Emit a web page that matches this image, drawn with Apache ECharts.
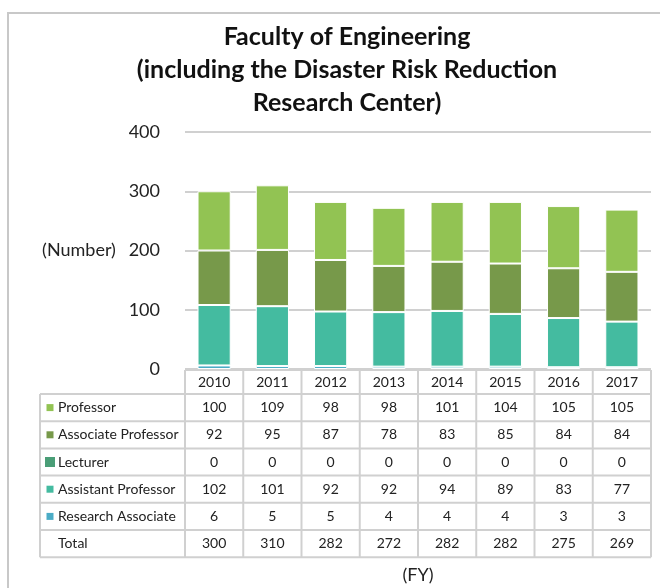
<!DOCTYPE html>
<html>
<head>
<meta charset="utf-8">
<script src="https://cdn.jsdelivr.net/npm/echarts@6/dist/echarts.min.js"></script>
<style>
  html, body {margin: 0; padding: 0; background: #fff;}
  #chart {width: 660px; height: 588px;}
</style>
</head>
<body>
<div id="chart"></div>
<script>
const years = ['2010', '2011', '2012', '2013', '2014', '2015', '2016', '2017'];
const professor = [100, 109, 98, 98, 101, 104, 105, 105];
const associateProfessor = [92, 95, 87, 78, 83, 85, 84, 84];
const lecturer = [0, 0, 0, 0, 0, 0, 0, 0];
const assistantProfessor = [102, 101, 92, 92, 94, 89, 83, 77];
const researchAssociate = [6, 5, 5, 4, 4, 4, 3, 3];
const totals = [300, 310, 282, 272, 282, 282, 275, 269];
const yTicks = [0, 100, 200, 300, 400];

const FONT = 'Lato, "Open Sans", sans-serif';
const LINE = '#d0d0d0';

// table rows, top to bottom (stack is drawn bottom-up)
const rows = [
    {name: 'Professor', data: professor, color: '#92c353', mark: 7},
    {name: 'Associate Professor', data: associateProfessor, color: '#77994a', mark: 7},
    {name: 'Lecturer', data: lecturer, color: '#4a9e77', mark: 10},
    {name: 'Assistant Professor', data: assistantProfessor, color: '#44bba0', mark: 7},
    {name: 'Research Associate', data: researchAssociate, color: '#4bacc6', mark: 7},
    {name: 'Total', data: totals, color: null, mark: 0}
];

const chart = echarts.init(document.getElementById('chart'));

const series = rows.slice(0, 5).reverse().map(r => ({
    name: r.name,
    type: 'bar',
    stack: 'staff',
    barWidth: '57%',
    data: r.data,
    itemStyle: {color: r.color, borderColor: '#fff', borderWidth: 1}
}));

chart.setOption({
    animation: false,
    textStyle: {fontFamily: FONT},
    title: {
        text: 'Faculty of Engineering\n(including the Disaster Risk Reduction\nResearch Center)',
        left: 342,
        top: 15,
        textAlign: 'center',
        textStyle: {fontSize: 25, fontWeight: 'bold', color: '#111', lineHeight: 33, fontFamily: FONT}
    },
    grid: {left: 185, right: 9, top: 132, bottom: 219},
    xAxis: {
        type: 'category',
        data: years,
        axisLine: {show: false},
        axisTick: {show: false},
        axisLabel: {show: false}
    },
    yAxis: {
        type: 'value',
        min: yTicks[0],
        max: yTicks[yTicks.length - 1],
        interval: 100,
        axisLabel: {fontSize: 18, color: '#222', margin: 25},
        splitLine: {lineStyle: {color: LINE, width: 2}}
    },
    series
});

// data table under the plot
const colX = years.map(y => chart.convertToPixel({xAxisIndex: 0}, y));
const half = (colX[1] - colX[0]) / 2;
const tLeft = 40, cLeft = colX[0] - half, cRight = colX[colX.length - 1] + half;
const headTop = 370, headBottom = 394, rowH = 27.2;
const tBottom = headBottom + rowH * rows.length;

const g = [];
const line = (x1, y1, x2, y2) => g.push({type: 'line', shape: {x1, y1, x2, y2}, style: {stroke: LINE, lineWidth: 2}, z: 10});

// outer frame
g.push({type: 'rect', shape: {x: 8, y: 13, width: 700, height: 620}, style: {fill: null, stroke: '#c8c8c8', lineWidth: 2}});

// horizontal rules
line(cLeft, headTop, cRight, headTop);
for (let i = 0; i <= rows.length; i++) {
    const y = headBottom + rowH * i;
    line(tLeft, y, cRight, y);
}
// vertical rules
line(tLeft, headBottom, tLeft, tBottom);
for (let i = 0; i <= years.length; i++) {
    const x = cLeft + half * 2 * i;
    line(x, headTop, x, tBottom);
}

years.forEach((y, i) => {
    g.push({type: 'text', x: colX[i], y: (headTop + headBottom) / 2, style: {text: y, fontSize: 14, fill: '#222', align: 'center', verticalAlign: 'middle', fontFamily: FONT}});
});

rows.forEach((r, ri) => {
    const cy = headBottom + rowH * ri + rowH / 2;
    if (r.mark) {
        g.push({type: 'rect', shape: {x: 50 - r.mark / 2, y: cy - r.mark / 2, width: r.mark, height: r.mark}, style: {fill: r.color}});
    }
    g.push({type: 'text', x: 58, y: cy, style: {text: r.name, fontSize: 14, fill: '#222', verticalAlign: 'middle', fontFamily: FONT}});
    r.data.forEach((v, i) => {
        g.push({type: 'text', x: colX[i], y: cy, style: {text: String(v), fontSize: 14, fill: '#222', align: 'center', verticalAlign: 'middle', fontFamily: FONT}});
    });
});

g.push({type: 'text', x: 79, y: 250, style: {text: '(Number)', fontSize: 18, fill: '#222', align: 'center', verticalAlign: 'middle', fontFamily: FONT}});
g.push({type: 'text', x: 418, y: 575, style: {text: '(FY)', fontSize: 18, fill: '#222', align: 'center', verticalAlign: 'middle', fontFamily: FONT}});

chart.setOption({graphic: {elements: g}});
</script>
</body>
</html>
